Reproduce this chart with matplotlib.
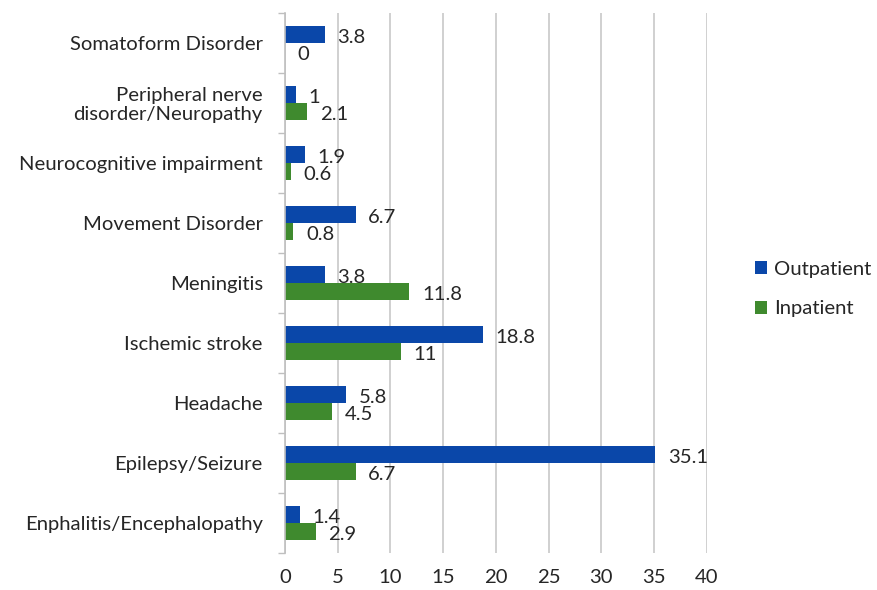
import matplotlib.pyplot as plt
import numpy as np

plt.rcParams['font.family'] = ['Lato', 'DejaVu Sans']

# categories listed bottom to top
categories = ['Enphalitis/Encephalopathy', 'Epilepsy/Seizure', 'Headache',
              'Ischemic stroke', 'Meningitis', 'Movement Disorder',
              'Neurocognitive impairment', 'Peripheral nerve\ndisorder/Neuropathy',
              'Somatoform Disorder']
outpatient = [1.4, 35.1, 5.8, 18.8, 3.8, 6.7, 1.9, 1, 3.8]
inpatient = [2.9, 6.7, 4.5, 11, 11.8, 0.8, 0.6, 2.1, 0]

blue = '#0a47a9'
green = '#3f8a2e'
text_col = '#262626'
fs = 14.6

fig = plt.figure(figsize=(8.77, 5.9), dpi=100)
ax = fig.add_axes([0.325, 0.063, 0.481, 0.915])

y = np.arange(len(categories))
h = 0.28
ax.barh(y + h / 2, outpatient, h, color=blue, label='Outpatient')
ax.barh(y - h / 2, inpatient, h, color=green, label='Inpatient')

for i in range(len(categories)):
    ax.annotate(f"{outpatient[i]:g}", (outpatient[i], y[i] + h / 2), xytext=(9, -2),
                textcoords='offset points', va='center', ha='left', fontsize=fs, color=text_col)
    ax.annotate(f"{inpatient[i]:g}", (inpatient[i], y[i] - h / 2), xytext=(9, -2),
                textcoords='offset points', va='center', ha='left', fontsize=fs, color=text_col)

ax.set_xlim(0, 40)
ax.set_ylim(-0.5, len(categories) - 0.5)
ax.set_xticks(np.arange(0, 41, 5))
ax.set_yticks(y)
ax.set_yticklabels(categories, fontsize=fs, color=text_col, linespacing=1.1)
ax.set_yticks(np.arange(-0.5, len(categories), 1), minor=True)
ax.tick_params(axis='y', which='major', length=0, pad=16)
ax.tick_params(axis='y', which='minor', length=5, color='#bfbfbf', width=1)
ax.tick_params(axis='x', length=0, labelsize=fs, labelcolor=text_col, pad=12)

ax.grid(axis='x', color='#c8c8c8', linewidth=1.2)
ax.set_axisbelow(True)
for s in ['top', 'right', 'bottom']:
    ax.spines[s].set_visible(False)
ax.spines['left'].set_color('#bfbfbf')
ax.spines['left'].set_linewidth(1.2)

leg = fig.legend(loc='center left', bbox_to_anchor=(0.84, 0.51), frameon=False,
                 fontsize=fs, handlelength=0.6, handleheight=0.6, handletextpad=0.35,
                 labelspacing=1.1)
for t in leg.get_texts():
    t.set_color(text_col)

plt.savefig('out.png', dpi=100)
